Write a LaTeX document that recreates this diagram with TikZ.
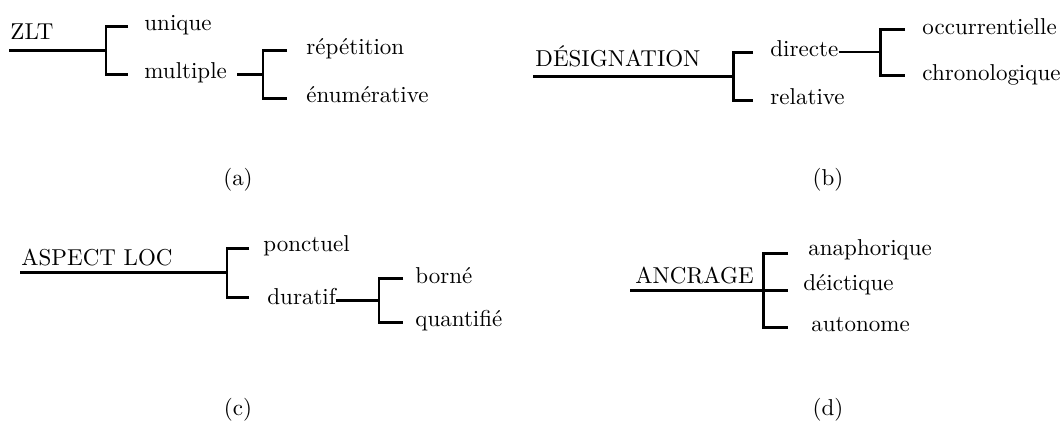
\documentclass[tikz,border=0pt]{standalone}
\usepackage{tikz}
\usepackage{xcolor}

\begin{document}
\begin{tikzpicture}[x=0.435pt,y=-0.435pt,
        branch/.style={line width=1.3pt},
        thinbranch/.style={line width=0.9pt},
        root/.style={anchor=base west,inner sep=0pt},
        leaf/.style={anchor=mid west,inner sep=0pt}]
        \useasboundingbox (0,0) rectangle (1064,429);
        % (a)
        \node[root] (zlt) at (10,39) {ZLT};
        \coordinate (aL) at (9,50);
        \coordinate (aB) at (106,50);
        \coordinate (a1) at (128,26);
        \coordinate (a2) at (128,74);
        \node[leaf] (unique) at (144,26) {unique};
        \node[leaf] (multiple) at (144,74) {multiple};
        \coordinate (mL) at (237,74);
        \coordinate (mB) at (263,74);
        \coordinate (m1) at (287,50);
        \coordinate (m2) at (287,98);
        \node[leaf] (repetition) at (306,50) {répétition};
        \node[leaf] (enumerative) at (306,98) {énumérative};
        \draw[branch] (aL) -- (aB);
        \draw[branch] (a1) -| (aB) |- (a2);
        \draw[branch] (mL) -- (mB);
        \draw[branch] (m1) -| (mB) |- (m2);
        \node (capa) at (238,180) {(a)};
        % (b)
        \node[root] (designation) at (535,66) {DÉSIGNATION};
        \coordinate (bL) at (533,76);
        \coordinate (bB) at (733,76);
        \coordinate (b1) at (753,52);
        \coordinate (b2) at (753,100);
        \node[leaf] (directe) at (770,52) {directe};
        \node[leaf] (relative) at (770,100) {relative};
        \coordinate (dB) at (880,52);
        \coordinate (d1) at (905,29);
        \coordinate (d2) at (905,75);
        \node[leaf] (occurrentielle) at (922,30) {occurrentielle};
        \node[leaf] (chronologique) at (922,76) {chronologique};
        \draw[branch] (bL) -- (bB);
        \draw[branch] (b1) -| (bB) |- (b2);
        \draw[thinbranch] (directe.mid east) -- (dB);
        \draw[branch] (d1) -| (dB) |- (d2);
        \node (capb) at (828,180) {(b)};
        % (c)
        \node[root] (aspect) at (21,265) {ASPECT LOC};
        \coordinate (cL) at (20,272);
        \coordinate (cB) at (227,272);
        \coordinate (c1) at (249,248);
        \coordinate (c2) at (249,297);
        \node[leaf] (ponctuel) at (263,247) {ponctuel};
        \node[leaf] (duratif) at (267,300) {duratif};
        \coordinate (eB) at (379,300);
        \coordinate (e1) at (403,278);
        \coordinate (e2) at (403,322);
        \node[leaf] (borne) at (415,279) {borné};
        \node[leaf] (quantifie) at (415,322) {quantifié};
        \draw[branch] (cL) -- (cB);
        \draw[branch] (c1) -| (cB) |- (c2);
        \draw[branch] (duratif.mid east) -- (eB);
        \draw[branch] (e1) -| (eB) |- (e2);
        \node (capc) at (238,410) {(c)};
        % (d)
        \node[root] (ancrage) at (635,283) {ANCRAGE};
        \coordinate (fL) at (630,290);
        \coordinate (fB) at (763,290);
        \coordinate (f1) at (788,253);
        \coordinate (f2) at (788,290);
        \coordinate (f3) at (788,327);
        \node[leaf] (anaphorique) at (808,251) {anaphorique};
        \node[leaf] (deictique) at (803,286) {déictique};
        \node[leaf] (autonome) at (811,327) {autonome};
        \draw[branch] (fL) -- (f2);
        \draw[branch] (f1) -| (fB) |- (f3);
        \node (capd) at (828,410) {(d)};
    \end{tikzpicture}
\end{document}
